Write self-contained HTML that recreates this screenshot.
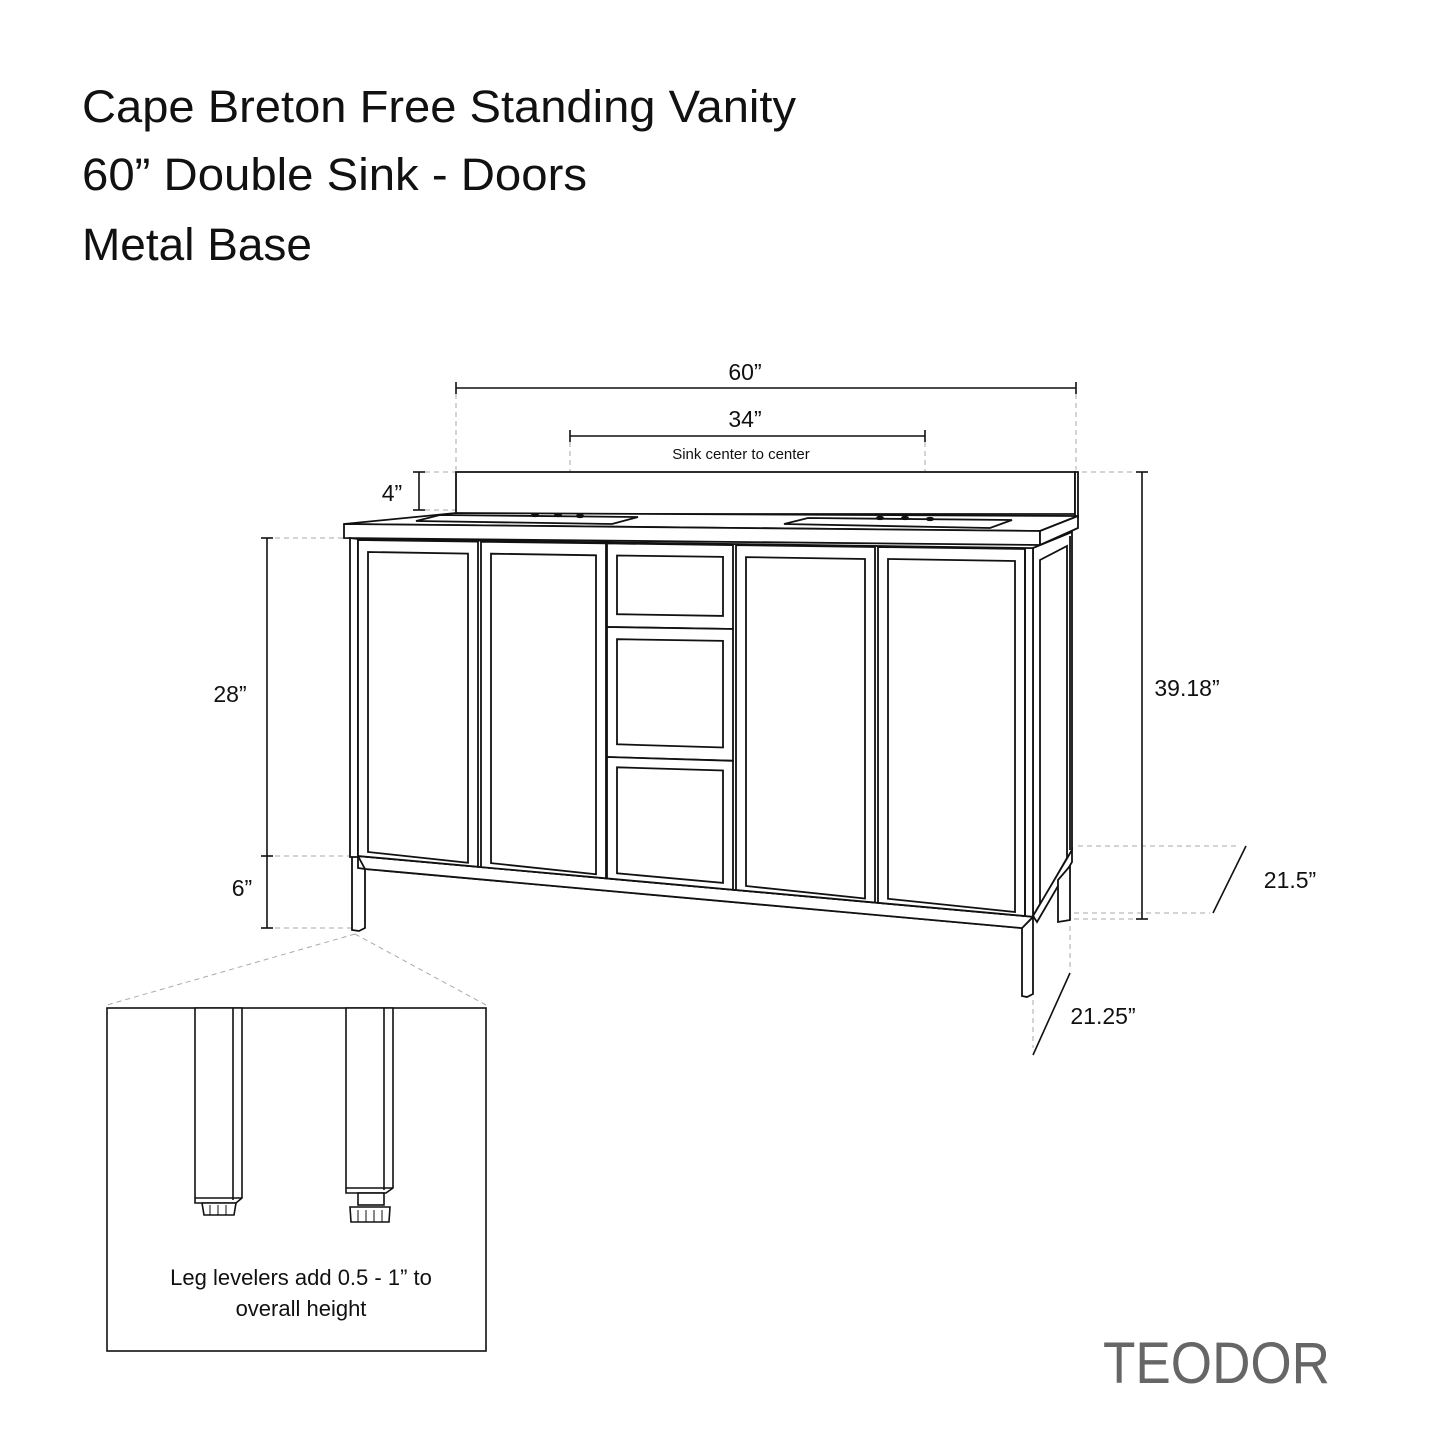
<!DOCTYPE html>
<html><head><meta charset="utf-8"><style>
html,body{margin:0;padding:0;background:#fff;}
svg{display:block;}
text{font-family:"Liberation Sans",sans-serif;fill:#111;}
</style></head><body>
<svg id="s" width="1445" height="1445" viewBox="0 0 1445 1445" xmlns="http://www.w3.org/2000/svg">
<rect width="1445" height="1445" fill="#fff"/>
<text x="82" y="122" font-size="45" textLength="714" lengthAdjust="spacingAndGlyphs">Cape Breton Free Standing Vanity</text>
<text x="82" y="190" font-size="45" textLength="505" lengthAdjust="spacingAndGlyphs">60” Double Sink - Doors</text>
<text x="82" y="260" font-size="45" textLength="230" lengthAdjust="spacingAndGlyphs">Metal Base</text>
<text x="1103" y="1383" font-size="58" style="fill:#666" textLength="227" lengthAdjust="spacingAndGlyphs">TEODOR</text>

<g stroke="#aaa" stroke-width="1" stroke-dasharray="5,4" fill="none">
<line x1="456" y1="394" x2="456" y2="470"/>
<line x1="1076" y1="394" x2="1076" y2="470"/>
<line x1="570" y1="442" x2="570" y2="512"/>
<line x1="925" y1="442" x2="925" y2="516"/>
<line x1="425" y1="472" x2="456" y2="472"/>
<line x1="425" y1="510" x2="456" y2="510"/>
<line x1="1082" y1="472" x2="1136" y2="472"/>
<line x1="275" y1="538" x2="348" y2="538"/>
<line x1="275" y1="856" x2="350" y2="856"/>
<line x1="275" y1="928" x2="352" y2="928"/>
<line x1="1074" y1="919" x2="1136" y2="919"/>
<line x1="1078" y1="846" x2="1240" y2="846"/>
<line x1="1074" y1="913" x2="1210" y2="913"/>
<line x1="1070" y1="926" x2="1070" y2="968"/>
<line x1="1033" y1="1000" x2="1033" y2="1048"/>
<line x1="355" y1="934" x2="107" y2="1005"/>
<line x1="355" y1="934" x2="486" y2="1005"/>
</g>

<g stroke="#111" stroke-width="1.6" fill="none">
<line x1="456" y1="388" x2="1076" y2="388"/><line x1="456" y1="382" x2="456" y2="394"/><line x1="1076" y1="382" x2="1076" y2="394"/>
<line x1="570" y1="436" x2="925" y2="436"/><line x1="570" y1="430" x2="570" y2="442"/><line x1="925" y1="430" x2="925" y2="442"/>
<line x1="419" y1="472" x2="419" y2="510"/><line x1="413" y1="472" x2="425" y2="472"/><line x1="413" y1="510" x2="425" y2="510"/>
<line x1="267" y1="538" x2="267" y2="928"/><line x1="261" y1="538" x2="273" y2="538"/><line x1="261" y1="856" x2="273" y2="856"/><line x1="261" y1="928" x2="273" y2="928"/>
<line x1="1142" y1="472" x2="1142" y2="919"/><line x1="1136" y1="472" x2="1148" y2="472"/><line x1="1136" y1="919" x2="1148" y2="919"/>
<line x1="1246" y1="846" x2="1213" y2="913"/>
<line x1="1070" y1="973" x2="1033" y2="1055"/>
</g>
<g font-size="23">
<text x="745" y="380" text-anchor="middle">60”</text>
<text x="745" y="427" text-anchor="middle">34”</text>
<text x="741" y="459" text-anchor="middle" font-size="15">Sink center to center</text>
<text x="392" y="501" text-anchor="middle">4”</text>
<text x="230" y="702" text-anchor="middle">28”</text>
<text x="242" y="896" text-anchor="middle">6”</text>
<text x="1187" y="696" text-anchor="middle">39.18”</text>
<text x="1290" y="888" text-anchor="middle">21.5”</text>
<text x="1103" y="1024" text-anchor="middle">21.25”</text>
</g>

<g id="cab" stroke="#111" stroke-width="1.8" fill="#fff" stroke-linejoin="miter"></g>

<g stroke="#111" stroke-width="1.6" fill="#fff">
<rect x="107" y="1008" width="379" height="343"/>
<polygon points="195,1008 242,1008 242,1198 236,1203 195,1203"/>
<line x1="233" y1="1008" x2="233" y2="1200"/>
<line x1="195" y1="1198" x2="242" y2="1198"/>
<path d="M202,1203 L236,1203 L234,1215 L204,1215 Z"/>
<path d="M346,1008 L393,1008 L393,1188 L386,1193 L346,1193 Z"/>
<line x1="384" y1="1008" x2="384" y2="1190"/>
<line x1="346" y1="1188" x2="393" y2="1188"/>
<rect x="358" y="1193" width="26" height="12"/>
<path d="M350,1207 L390,1207 L389,1222 L351,1222 Z"/>
</g>
<g stroke="#111" stroke-width="1" >
<line x1="210" y1="1205" x2="210" y2="1215"/><line x1="218" y1="1205" x2="218" y2="1215"/><line x1="226" y1="1205" x2="226" y2="1215"/>
<line x1="358" y1="1210" x2="358" y2="1222"/><line x1="366" y1="1210" x2="366" y2="1222"/><line x1="374" y1="1210" x2="374" y2="1222"/><line x1="382" y1="1210" x2="382" y2="1222"/>
</g>
<text x="301" y="1285" font-size="22" text-anchor="middle">Leg levelers add 0.5 - 1” to</text>
<text x="301" y="1316" font-size="22" text-anchor="middle">overall height</text>

<script>
(function(){
var g=document.getElementById('cab'),NS='http://www.w3.org/2000/svg';
function P(pts,fill){var e=document.createElementNS(NS,'polygon');e.setAttribute('points',pts.map(function(p){return p[0].toFixed(1)+','+p[1].toFixed(1)}).join(' '));if(fill)e.setAttribute('fill',fill);g.appendChild(e);}
function L(a,b,c,d){var e=document.createElementNS(NS,'line');e.setAttribute('x1',a);e.setAttribute('y1',b);e.setAttribute('x2',c);e.setAttribute('y2',d);g.appendChild(e);}
function T(x){return 539+(x-358)*0.0135;}
function B(x){return 856+(x-358)*0.09;}
function R(x){return 869+(x-365)*0.09;}
P([[456,472],[1075,472],[1075,514],[456,514]]);
P([[1075,472],[1078,472],[1078,518],[1075,518]]);
P([[344,524],[456,513],[1078,516],[1040,531]]);
P([[416,521],[440,515],[638,517],[612,524]]);
P([[784,524],[808,518],[1012,520],[990,528]]);
[[535,515],[558,515],[580,516],[880,518],[905,518],[930,519]].forEach(function(h){var e=document.createElementNS(NS,'ellipse');e.setAttribute('cx',h[0]);e.setAttribute('cy',h[1]);e.setAttribute('rx',3);e.setAttribute('ry',1.2);e.setAttribute('fill','#111');g.appendChild(e);});
P([[344,524],[1040,531],[1040,545],[344,538]]);
P([[1040,531],[1078,516],[1078,528],[1040,545]]);
P([[1033,548],[1072,532],[1072,850],[1033,916]]);
P([[1040,560],[1067,546],[1067,858],[1040,905]]);
L(1070,536,1070,850);
P([[1033,916],[1072,850],[1072,862],[1037,922]]);
P([[1058,880],[1070,866],[1070,920],[1058,922]]);
P([[352,856],[365,856],[365,928],[359,931],[352,930]]);
P([[1022,914],[1033,916],[1033,994],[1027,997],[1022,996]]);
P([[358,B(358)],[1033,B(1033)],[1033,917],[1022,928],[365,869],[358,868]]);
P([[358,B(358)],[1033,B(1033)],[1022,R(1022)],[365,R(365)]]);
P([[350,538],[358,539],[358,857],[350,857]]);
P([[358,T(358)],[1033,T(1033)],[1033,B(1033)],[358,B(358)]]);
function door(x1,x2){
 var tb1=T(x1)+1,tb2=T(x2)+1,bb1=B(x1),bb2=B(x2),i=10;
 P([[x1,tb1],[x2,tb2],[x2,bb2],[x1,bb1]]);
 P([[x1+i,tb1+12],[x2-i,tb2+12],[x2-i,bb2-4],[x1+i,bb1-4]]);
}
door(358,478);door(481,606);door(736,875);door(878,1025);
L(1025,T(1025),1025,B(1025));
var d1b=function(x){return 614+(x-607)*0.016},d2t=function(x){return 627+(x-607)*0.016},d2b=function(x){return 744+(x-607)*0.03},d3t=function(x){return 757+(x-607)*0.03};
P([[607,T(607)+1],[733,T(733)+1],[733,d2t(733)],[607,d2t(607)]]);
P([[617,T(617)+13],[723,T(723)+13],[723,d1b(723)],[617,d1b(617)]]);
P([[607,d2t(607)],[733,d2t(733)],[733,d3t(733)],[607,d3t(607)]]);
P([[617,d2t(617)+12],[723,d2t(723)+12],[723,d2b(723)],[617,d2b(617)]]);
P([[607,d3t(607)],[733,d3t(733)],[733,B(733)],[607,B(607)]]);
P([[617,d3t(617)+10],[723,d3t(723)+10],[723,B(723)-6],[617,B(617)-6]]);
})();
</script>
</svg>
</body></html>
